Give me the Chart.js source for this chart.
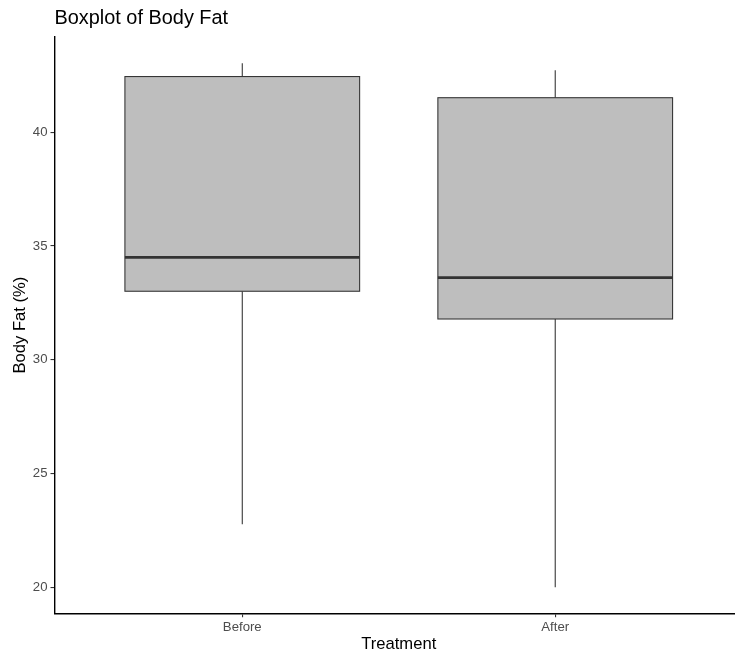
<!DOCTYPE html>
<html>
<head>
<meta charset="utf-8">
<title>Boxplot of Body Fat</title>
<script src="https://cdn.jsdelivr.net/npm/chart.js@4.4.1/dist/chart.umd.min.js"></script>
<style>
  html, body { margin: 0; padding: 0; background: #fff; overflow: hidden; }
  #wrap { width: 743px; height: 656px; position: relative; }
</style>
</head>
<body>
<div id="wrap"><canvas id="boxChart"></canvas></div>
<script>
// values
const categories = ["Before", "After"];
const whiskerLow = [22.77, 20.0];
const q1 = [33.01, 31.79];
const median = [34.50, 33.61];
const q3 = [42.45, 41.52];
const whiskerHigh = [43.03, 42.73];
const yTicks = [20, 25, 30, 35, 40];

const FONT = "'Liberation Sans', Arial, Helvetica, sans-serif";

// draws boxes, whiskers and medians from the scales
const boxPlugin = {
  id: "boxes",
  afterDatasetsDraw(chart) {
    const { ctx, scales: { x, y } } = chart;
    ctx.save();
    categories.forEach((c, i) => {
      const pos = i + 1;
      const cx = x.getPixelForValue(pos);
      const left = x.getPixelForValue(pos - 0.375);
      const right = x.getPixelForValue(pos + 0.375);
      const top = y.getPixelForValue(q3[i]);
      const bot = y.getPixelForValue(q1[i]);

      ctx.strokeStyle = "#333333";
      ctx.lineWidth = 1.07;
      // whiskers
      ctx.beginPath();
      ctx.moveTo(cx, y.getPixelForValue(whiskerHigh[i]));
      ctx.lineTo(cx, top);
      ctx.moveTo(cx, bot);
      ctx.lineTo(cx, y.getPixelForValue(whiskerLow[i]));
      ctx.stroke();

      // box
      ctx.fillStyle = "#BEBEBE";
      ctx.fillRect(left, top, right - left, bot - top);
      ctx.strokeRect(left, top, right - left, bot - top);

      // median
      const my = y.getPixelForValue(median[i]);
      ctx.lineWidth = 2.6;
      ctx.beginPath();
      ctx.moveTo(left, my);
      ctx.lineTo(right, my);
      ctx.stroke();
    });
    ctx.restore();
  }
};

const ctx = document.getElementById("boxChart").getContext("2d");
new Chart(ctx, {
  type: "scatter",
  data: {
    datasets: [{
      label: "median",
      data: categories.map((c, i) => ({ x: i + 1, y: median[i] })),
      pointRadius: 0,
      pointHoverRadius: 0
    }]
  },
  plugins: [boxPlugin],
  options: {
    responsive: true,
    maintainAspectRatio: false,
    animation: false,
    events: [],
    layout: { padding: 0 },
    plugins: {
      legend: { display: false },
      tooltip: { enabled: false },
      title: {
        display: true,
        text: "Boxplot of Body Fat",
        align: "start",
        fullSize: false,
        color: "#000",
        font: { family: FONT, size: 19.9, weight: "normal", lineHeight: 1.2 },
        padding: { top: 6.5, bottom: 6.6 }
      }
    },
    scales: {
      x: {
        type: "linear",
        min: 0.4,
        max: 2.6,
        afterBuildTicks: (s) => { s.ticks = categories.map((c, i) => ({ value: i + 1 })); },
        afterFit: (s) => { s.height = 42.7; },
        grid: { display: true, drawOnChartArea: false, drawTicks: true, tickLength: 4, color: "#333333", lineWidth: 1.1 },
        border: { display: true, color: "#000", width: 1.4 },
        ticks: {
          autoSkip: false,
          maxRotation: 0,
          padding: 2,
          color: "#4D4D4D",
          font: { family: FONT, size: 13.2 },
          callback: (v) => categories[v - 1]
        },
        title: {
          display: true,
          text: "Treatment",
          color: "#000",
          font: { family: FONT, size: 16.6, lineHeight: 1.2 },
          padding: { top: 0, bottom: 2 }
        }
      },
      y: {
        type: "linear",
        min: 18.85,
        max: 44.19,
        afterBuildTicks: (s) => { s.ticks = yTicks.map(v => ({ value: v })); },
        afterFit: (s) => { s.width = 54.5; },
        grid: { display: true, drawOnChartArea: false, drawTicks: true, tickLength: 4, color: "#333333", lineWidth: 1.1 },
        border: { display: true, color: "#000", width: 1.4 },
        ticks: {
          padding: 3,
          color: "#4D4D4D",
          font: { family: FONT, size: 13.2 }
        },
        title: {
          display: true,
          text: "Body Fat (%)",
          color: "#000",
          font: { family: FONT, size: 16.6, lineHeight: 1.2 },
          padding: { top: 10, bottom: 0 }
        }
      }
    }
  }
});
</script>
</body>
</html>
